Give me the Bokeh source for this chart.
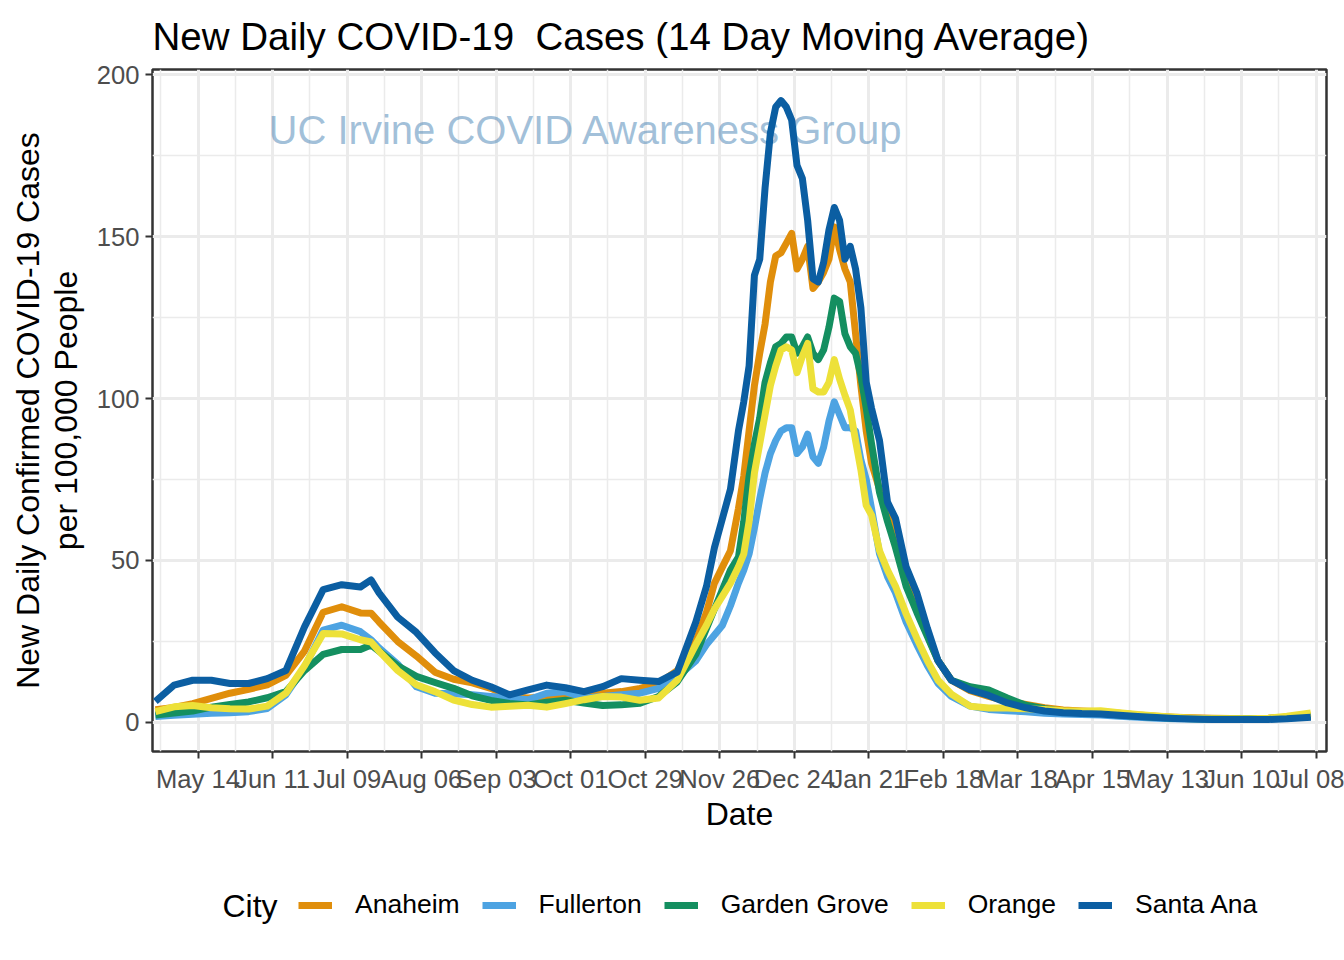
import pandas as pd
from bokeh.plotting import figure
from bokeh.layouts import column
from bokeh.models import (ColumnDataSource, FixedTicker, DatetimeTickFormatter,
                          Range1d, Legend, LegendItem, Label)
from bokeh.embed import file_html
from bokeh.resources import INLINE
from bokeh.core.properties import value

# ---------------- data ----------------
dates = [
    "2020-04-28", "2020-05-05", "2020-05-12", "2020-05-19", "2020-05-26", "2020-06-02",
    "2020-06-09", "2020-06-16", "2020-06-23", "2020-06-30", "2020-07-07", "2020-07-14",
    "2020-07-18", "2020-07-21", "2020-07-28", "2020-08-04", "2020-08-11", "2020-08-18",
    "2020-08-25", "2020-09-01", "2020-09-08", "2020-09-15", "2020-09-22", "2020-09-29",
    "2020-10-06", "2020-10-13", "2020-10-20", "2020-10-27", "2020-11-03", "2020-11-10",
    "2020-11-17",
    "2020-11-21", "2020-11-24", "2020-11-27", "2020-11-30",
    "2020-12-03", "2020-12-05", "2020-12-07", "2020-12-09", "2020-12-11", "2020-12-13",
    "2020-12-15", "2020-12-17", "2020-12-19", "2020-12-21", "2020-12-23", "2020-12-25",
    "2020-12-27", "2020-12-29", "2020-12-31", "2021-01-02", "2021-01-04", "2021-01-06",
    "2021-01-08", "2021-01-10", "2021-01-12", "2021-01-14", "2021-01-16", "2021-01-18",
    "2021-01-20",
    "2021-01-22", "2021-01-25", "2021-01-28", "2021-01-31",
    "2021-02-04", "2021-02-08", "2021-02-12", "2021-02-16", "2021-02-21",
    "2021-02-28", "2021-03-07", "2021-03-14", "2021-03-21", "2021-03-28", "2021-04-04",
    "2021-04-11", "2021-04-18", "2021-04-25", "2021-05-02", "2021-05-09", "2021-05-16",
    "2021-05-23", "2021-05-30", "2021-06-06", "2021-06-13", "2021-06-20", "2021-06-27",
    "2021-07-06",
]

anaheim = [
    3.9, 4.6, 5.8, 7.4, 9, 10.2, 11.6, 14.5, 22, 34, 35.7, 33.8, 33.7, 31, 25, 20.5,
    15.5, 13.3, 12.2, 10.5, 8, 7.5, 7.8, 8.5, 8.8, 9, 9.5, 10.5, 12, 16, 25,
    34, 43, 48, 53,
    66, 76, 90, 104, 114, 123, 136, 144, 145, 148, 151, 140, 143, 147, 134, 136,
    139, 143, 153, 146, 140, 136, 120, 104, 90,
    80, 72, 64, 59,
    45, 37, 27, 19, 13,
    9.8, 8, 6.5, 5.5, 4.5, 3.8, 3.5, 3.3, 2.8, 2.3, 1.9, 1.6, 1.4, 1.3, 1.2, 1.2, 1.3, 1.6,
    2.2,
]

fullerton = [
    1.8, 2.2, 2.5, 2.8, 3, 3.3, 4.3, 8.5, 17, 28.5, 30, 28, 25.5, 23, 18, 11,
    9, 8.8, 8.5, 8, 7.5, 7, 9, 9.5, 7.5, 8, 8.5, 9, 10.5, 14, 19,
    24, 27, 30, 36,
    43, 47, 52, 60, 69, 77, 83, 87, 90, 91, 91, 83, 85, 89, 82, 80,
    85, 93, 99, 95, 91, 91, 90, 81, 75,
    66, 52, 45, 40,
    31, 24, 17.5, 12, 8,
    5, 4, 3.6, 3.3, 2.8, 2.6, 2.4, 2.3, 1.9, 1.6, 1.3, 1.1, 1.0, 0.9, 0.9, 1.0, 1.1, 1.3,
    1.8,
]

garden_grove = [
    2.3, 2.9, 3.5, 4.7, 5.5, 6.3, 7.6, 9.5, 16, 21, 22.5, 22.5, 23.9, 22, 17.5, 14.2,
    12.3, 10.5, 8.2, 6.8, 5.8, 5.4, 6.2, 6.8, 6, 5.2, 5.4, 5.9, 8, 12.5, 21,
    29, 35, 41, 47,
    51, 62, 76, 86, 94, 105, 111, 116, 117, 119, 119, 114, 116, 119, 114, 112,
    115, 122, 131, 130, 120, 116, 114, 107, 97,
    86, 71, 62, 54,
    42, 34, 26.5, 19, 13,
    11, 10, 7.5, 5.3, 4.2, 3.4, 3, 2.8, 2.3, 1.9, 1.6, 1.3, 1.1, 1.0, 1.0, 1.1, 1.2, 1.4,
    1.8,
]

orange = [
    3.3, 4.8, 5.2, 4.5, 4.2, 4.1, 5, 9, 17.5, 27.4, 27.3, 25.5, 24.8, 22, 16, 11.6,
    9.5, 6.9, 5.5, 4.7, 5, 5.3, 4.7, 5.8, 7, 8, 7.8, 6.8, 7.5, 13, 24,
    30, 35, 39, 43,
    48, 52, 62, 77, 86, 95, 104, 110, 115, 116, 115, 108, 113, 117, 103, 102,
    102, 105, 112, 106, 101, 96.5, 87, 78, 67,
    64, 53, 47, 42,
    33.5, 26, 19, 13, 8.7,
    5, 4.4, 4.4, 4.2, 4.0, 3.6, 3.4, 3.6, 3.0, 2.4, 2.0, 1.6, 1.3, 1.1, 1.1, 1.1, 1.3, 1.9,
    2.9,
]

santa_ana = [
    6.5, 11.5, 13, 13, 12, 12, 13.5, 16, 29.5, 41, 42.5, 41.8, 44, 40, 32.5, 27.8,
    21.5, 16, 13, 11, 8.5, 10, 11.5, 10.7, 9.5, 11, 13.5, 13, 12.6, 15.5, 31,
    42, 54, 63, 72,
    90, 99, 110, 138, 143, 165, 182, 190, 192, 190, 186, 172, 168, 155, 137, 136,
    142, 152, 159, 155, 143, 147, 140, 128, 105,
    97, 87, 68, 63,
    48, 40, 29, 19, 13,
    10, 8.3, 6, 4.5, 3.5, 3, 2.7, 2.6, 2.2, 1.8, 1.5, 1.2, 1.0, 0.9, 0.9, 0.9, 0.9, 1.1,
    1.6,
]

cities = ["Anaheim", "Fullerton", "Garden Grove", "Orange", "Santa Ana"]
series = [anaheim, fullerton, garden_grove, orange, santa_ana]
colors = ["#E08E0B", "#4DA3E2", "#148F60", "#EDE139", "#0B5EA2"]

x_tick_dates = ["2020-05-14", "2020-06-11", "2020-07-09", "2020-08-06", "2020-09-03",
                "2020-10-01", "2020-10-29", "2020-11-26", "2020-12-24", "2021-01-21",
                "2021-02-18", "2021-03-18", "2021-04-15", "2021-05-13", "2021-06-10",
                "2021-07-08"]
x_minor_dates = ["2020-04-30", "2020-05-28", "2020-06-25", "2020-07-23", "2020-08-20",
                 "2020-09-17", "2020-10-15", "2020-11-12", "2020-12-10", "2021-01-07",
                 "2021-02-04", "2021-03-04", "2021-04-01", "2021-04-29", "2021-05-27",
                 "2021-06-24"]
y_ticks = [0, 50, 100, 150, 200]
y_minor = [25, 75, 125, 175]

watermark = "UC Irvine COVID Awareness Group"
watermark_x = "2020-06-09 12:00"
watermark_y = 183

# ---------------- figure ----------------
FONT = "Liberation Sans"


def ms(s):
    return pd.Timestamp(s).timestamp() * 1000.0


data = {"date": pd.to_datetime(dates)}
for c, s in zip(cities, series):
    data[c] = s
src = ColumnDataSource(data)

p = figure(width=1344, height=870, x_axis_type="datetime",
           x_range=Range1d(pd.Timestamp("2020-04-26 21:36"), pd.Timestamp("2021-07-11 21:36")),
           y_range=Range1d(-9.0, 201.6),
           output_backend="svg", toolbar_location=None,
           min_border_left=152, min_border_right=18, min_border_top=69, min_border_bottom=119,
           title="New Daily COVID-19\u00a0 Cases (14 Day Moving Average)")

p.background_fill_color = "white"
p.border_fill_color = "white"
p.outline_line_color = "#333333"
p.outline_line_width = 2.5

p.title.text_font = FONT
p.title.text_font_size = "38.5px"
p.title.text_font_style = "normal"
p.title.text_color = "black"
p.title.align = "left"
p.title.standoff = 23

# grids
for g in (p.xgrid, p.ygrid):
    g.grid_line_color = "#EBEBEB"
    g.grid_line_width = 3
    g.minor_grid_line_color = "#EBEBEB"
    g.minor_grid_line_width = 1.5

# axes
p.xaxis.ticker = FixedTicker(ticks=[ms(d) for d in x_tick_dates],
                             minor_ticks=[ms(d) for d in x_minor_dates])
fmt = "%b %d"
p.xaxis.formatter = DatetimeTickFormatter(days=fmt, months=fmt, years=fmt, hours=fmt,
                                          hourmin=fmt, minutes=fmt, minsec=fmt,
                                          seconds=fmt, milliseconds=fmt, microseconds=fmt)
p.yaxis.ticker = FixedTicker(ticks=y_ticks, minor_ticks=y_minor)

p.xaxis.axis_label = "Date"
p.yaxis.axis_label = "New Daily Confirmed COVID-19 Cases\nper 100,000 People"

for ax in (p.xaxis[0], p.yaxis[0]):
    ax.axis_line_color = None
    ax.major_tick_line_color = "#333333"
    ax.major_tick_line_width = 2
    ax.major_tick_out = 7
    ax.major_tick_in = 0
    ax.minor_tick_out = 0
    ax.minor_tick_in = 0
    ax.major_label_text_font = FONT
    ax.major_label_text_font_size = "25.6px"
    ax.major_label_text_color = "#4D4D4D"
    ax.major_label_standoff = 6
    ax.axis_label_text_font = FONT
    ax.axis_label_text_font_size = "32px"
    ax.axis_label_text_font_style = "normal"
    ax.axis_label_text_color = "black"
    ax.axis_label_text_line_height = 1.05
p.xaxis.axis_label_standoff = 0
p.yaxis.axis_label_standoff = 10

# watermark text (under the lines)
p.text(x=[pd.Timestamp(watermark_x)], y=[watermark_y], text=[watermark],
       text_font=value(FONT), text_font_size="40px", text_color="steelblue",
       text_alpha=0.5, text_baseline="middle", text_align="left")

for c, col in zip(cities, colors):
    p.line(x="date", y=c, source=src, line_width=7, line_color=col,
           line_join="round", line_cap="butt")

# ---------------- legend strip below the plot ----------------
# (its frame is aligned with the main plot's frame, which starts at x = 152)
leg = figure(width=1344, height=90, output_backend="svg", toolbar_location=None,
             x_axis_location=None, y_axis_location=None, min_border=0,
             x_range=Range1d(0, 1), y_range=Range1d(0, 1))
leg.outline_line_color = None
leg.grid.visible = False
leg.background_fill_color = "white"
leg.border_fill_color = "white"

items = []
for c, col in zip(cities, colors):
    # legend-only renderer: its points lie outside the strip's visible range
    r = leg.line(x=[-5, -4], y=[-5, -4], line_width=7, line_color=col, line_cap="butt")
    items.append(LegendItem(label=c, renderers=[r]))

legend = Legend(items=items, location=(146, 40), orientation="horizontal",
                glyph_width=34, glyph_height=30, label_standoff=23, spacing=22,
                padding=0, margin=0, border_line_color=None,
                background_fill_alpha=0, label_text_font=FONT,
                label_text_font_size="26.5px", label_text_color="black")
leg.add_layout(legend)

city_label = Label(x=70, y=55, x_units="screen", y_units="screen", text="City",
                   text_font=FONT, text_font_size="32px", text_baseline="middle",
                   text_align="left", text_color="black")
leg.add_layout(city_label)

layout = column(p, leg, spacing=0)
open("out.html", "w").write(file_html(layout, INLINE))
